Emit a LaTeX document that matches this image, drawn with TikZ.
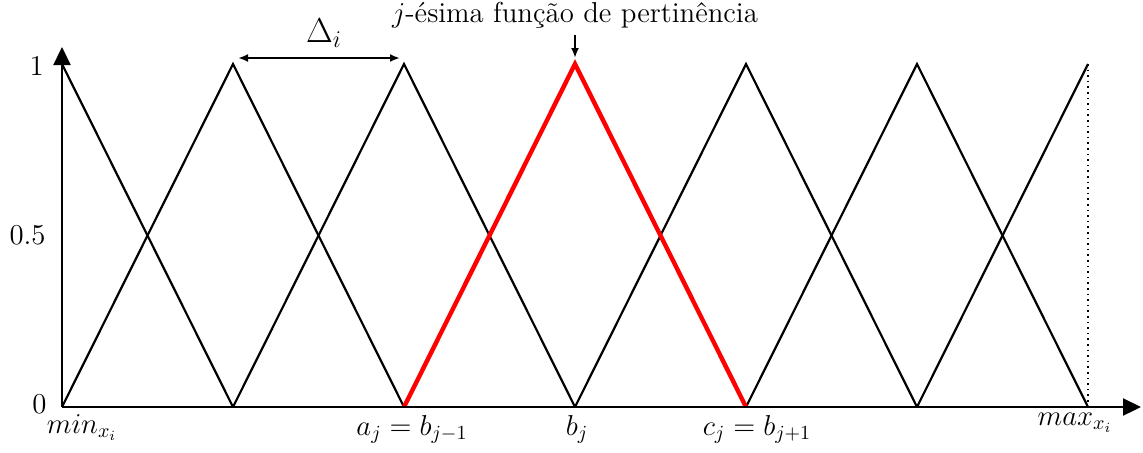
\documentclass[tikz,border=0pt]{standalone}
\usepackage{amsmath}
\usetikzlibrary{arrows.meta}

\begin{document}
\begin{tikzpicture}[
                x=0.5pt, y=0.5pt,
                font=\Large,
                memb/.style={
                    draw=black,
                    line width=1.1pt,
                    line join=miter
                },
                membj/.style={
                    memb,
                    draw=red,
                    line width=2.2pt
                },
                axis/.style={
                    line width=1.1pt,
                    -{Triangle[length=9pt,width=8.5pt]}
                },
                arrow/.style={
                    line width=1pt,
                    >={Latex[length=5pt,width=4pt]}
                },
                tick/.style={
                    anchor=base,
                    inner sep=0pt
                },
                ylab/.style={
                    anchor=east,
                    inner sep=0pt
                }
            ]
                \useasboundingbox (-62,-45) rectangle (1081,407);

                % base points and peaks of the membership functions
                \foreach \k in {0,...,6} {
                    \coordinate (v\k) at (171*\k,0);
                    \coordinate (p\k) at (171*\k,343);
                }
                \coordinate (o) at (0,0);
                \coordinate (xend) at (1079,0);
                \coordinate (yend) at (0,360);

                \draw[memb] (p0) -- (v1);
                \foreach \a/\b/\c in {0/1/2,1/2/3,3/4/5,4/5/6}
                    \draw[memb] (v\a) -- (p\b) -- (v\c);
                \draw[memb] (v5) -- (p6);
                \draw[membj] (v2) -- (p3) -- (v4);
                \draw[dotted, line width=0.8pt] (p6) -- (v6);

                \draw[axis] (o) -- (xend);
                \draw[axis] (o) -- (yend);

                % y labels
                \node[ylab] (y1) at (-18,341) {$1$};
                \node[ylab] (y05) at (-16,171.5) {$0.5$};
                \node[ylab] (y0) at (-15,3) {$0$};

                % x labels
                \node[tick] (lmin) at (20,-26) {$min_{x_i}$};
                \node[tick] (la) at (350,-28) {$a_j = b_{j-1}$};
                \node[tick] (lb) at (515,-28) {$b_j$};
                \node[tick] (lc) at (695,-28) {$c_j = b_{j+1}$};
                \node[tick] (lmax) at (1013,-18) {$max_{x_i}$};

                % Delta_i
                \coordinate (da) at (176,349);
                \coordinate (db) at (338,349);
                \draw[arrow, <->] (da) -- (db);
                \node[anchor=south, inner sep=0pt, font=\LARGE] (delta) at (262,359) {$\Delta_i$};

                % j-th membership function
                \coordinate (ja) at (513,372);
                \coordinate (jb) at (513,349);
                \draw[arrow, ->] (ja) -- (jb);
                \node[anchor=south, inner sep=3pt] (jlab) at (ja) {$j$-ésima função de pertinência};
        \end{tikzpicture}
\end{document}
